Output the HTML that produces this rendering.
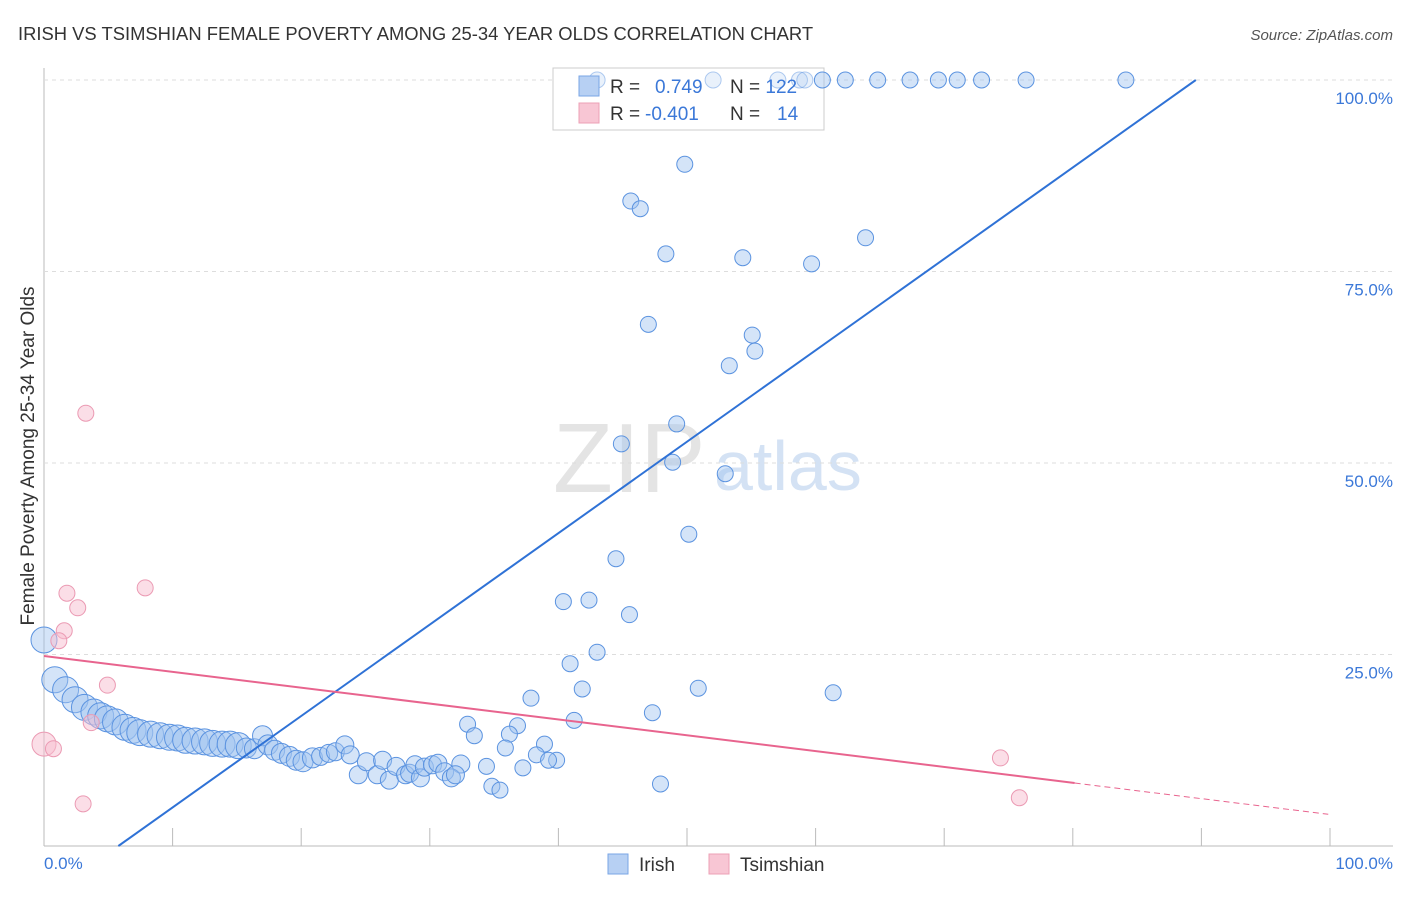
<!DOCTYPE html>
<html><head><meta charset="utf-8"><style>
body{margin:0;background:#fff;font-family:"Liberation Sans",sans-serif}
svg text{font-family:"Liberation Sans",sans-serif}
</style></head><body>
<svg id="chart" width="1406" height="892">
<text x="18" y="40" font-size="18.4" fill="#333">IRISH VS TSIMSHIAN FEMALE POVERTY AMONG 25-34 YEAR OLDS CORRELATION CHART</text>
<text x="1393" y="40" font-size="15" fill="#555" font-style="italic" text-anchor="end">Source: ZipAtlas.com</text>
<text x="553" y="492" font-size="98" fill="#e4e4e4" font-family="Liberation Serif">ZIP</text>
<text x="714" y="490" font-size="70" fill="#d4e2f4">atlas</text>
<g id="grid"></g>
<g>
<rect x="553" y="68" width="271" height="62" fill="#fff" stroke="#ccc"/>
</g>
<g id="pts"></g><g id="lines"></g>
<g>
<rect x="579" y="76" width="20" height="20" fill="#b7d0f3" stroke="#7aa6e6"/>
<rect x="579" y="103" width="20" height="20" fill="#f8c6d4" stroke="#eca0b6"/>
<text x="610" y="93" font-size="19" fill="#333">R = <tspan fill="#3b78d8" x="655">0.749</tspan><tspan x="730">N = </tspan><tspan fill="#3b78d8">122</tspan></text>
<text x="610" y="120" font-size="19" fill="#333">R = <tspan fill="#3b78d8" x="645">-0.401</tspan><tspan x="730">N = </tspan><tspan fill="#3b78d8" x="777">14</tspan></text>
</g>
<text transform="translate(34,456) rotate(-90)" font-size="19" fill="#333" text-anchor="middle">Female Poverty Among 25-34 Year Olds</text>
<text x="44" y="869" font-size="17" fill="#3b78d8">0.0%</text>
<text x="1393" y="869" font-size="17" fill="#3b78d8" text-anchor="end">100.0%</text>
<g>
<rect x="608" y="854" width="20" height="20" fill="#b7d0f3" stroke="#7aa6e6"/>
<text x="639" y="871" font-size="19" fill="#333">Irish</text>
<rect x="709" y="854" width="20" height="20" fill="#f8c6d4" stroke="#eca0b6"/>
<text x="740" y="871" font-size="19" fill="#333">Tsimshian</text>
</g>
</svg>
<script>
const yTicks=[25,50,75,100];
const yTickLabels=["25.0%","50.0%","75.0%","100.0%"];
const irishX=[41.0,49.6,54.4,56.0,56.4,57.7,59.4,61.8,64.2,66.3,67.7,69.5,72.8,80.2,47.5,43.5,44.2,60.9,46.1,51.8,56.9,44.8,52.5,52.7,50.8,46.9,42.8,46.6,50.5,47.8,42.4,40.4,38.5,43.4,41.0,39.0,39.9,48.5,58.5,36.1,45.1,39.3,31.4,35.1,31.9,34.5,34.2,37.1,36.5,38.0,37.4,32.8,30.9,35.5,33.2,33.8,45.7,
0,0.8,1.6,2.3,3.0,3.7,4.2,4.7,5.3,6.0,6.6,7.1,7.9,8.6,9.3,9.9,10.5,11.2,11.9,12.5,13.2,13.8,14.4,15.0,15.6,16.2,16.6,17.1,17.6,18.2,18.7,19.2,19.9,20.5,21.1,21.6,22.3,22.7,23.3,23.9,24.7,25.1,25.6,26.1,26.8,27.1,27.5,27.9,28.2,28.8,29.2,29.7,30.2,30.5];
const irishY=[100,100,100,100,100,100,100,100,100,100,100,100,100,100,89.0,84.2,83.2,79.4,77.3,76.8,76.0,68.1,66.7,64.6,62.7,55.1,52.5,50.1,48.6,40.7,37.5,32.1,31.9,30.2,25.3,23.8,20.5,20.6,20.0,19.3,17.4,16.4,15.9,15.7,14.4,14.6,12.8,13.3,11.9,11.2,11.2,10.4,10.7,10.2,7.8,7.3,8.1,
26.9,21.7,20.4,19.1,18.1,17.5,17.0,16.6,16.2,15.5,15.1,14.8,14.6,14.4,14.2,14.1,13.8,13.7,13.6,13.4,13.3,13.3,13.1,12.8,12.7,14.4,13.2,12.5,12.1,11.7,11.2,11.0,11.5,11.7,12.1,12.3,13.2,11.9,9.3,11.0,9.3,11.2,8.6,10.4,9.3,9.5,10.6,8.9,10.3,10.6,10.8,9.7,8.9,9.3];
const tsimX=[3.1,7.5,1.7,2.5,1.5,1.1,4.7,3.5,0,0.7,2.9,70.9,72.3];
const tsimY=[56.5,33.7,33.0,31.1,28.1,26.8,21.0,16.1,13.3,12.7,5.5,11.5,6.3];
const irishFit=[-6.9,1.252];
const tsimFit=[24.8,-0.217];
const NS='http://www.w3.org/2000/svg';
const X=v=>44+v*13.49, Y=v=>846-v*7.66;
function mk(p,t,a){const e=document.createElementNS(NS,t);for(const k in a)e.setAttribute(k,a[k]);p.appendChild(e);return e;}
const g=document.getElementById('grid');
let e=mk(g,'line',{x1:44,y1:68,x2:44,y2:846,stroke:'#bbb'});


e=mk(g,'line',{x1:44,y1:846,x2:1393,y2:846,stroke:'#bbb'});


for(let i=1;i<=10;i++){const x=44+i*128.6;e=mk(g,'line',{x1:x,y1:828,x2:x,y2:846,stroke:'#bbb'});

}
yTicks.forEach((t,i)=>{e=mk(g,'line',{x1:44,y1:Y(t),x2:1393,y2:Y(t),stroke:'#ddd','stroke-dasharray':'4,4'});


e=mk(g,'text',{x:1393,y:Y(t)+24,'font-size':17,fill:'#3b78d8','text-anchor':'end'});e.textContent=yTickLabels[i];

});
const p=document.getElementById('pts');
const rad=x=>x<15?13:x<20?10:x<31?9:8;
irishX.forEach((x,i)=>{e=mk(p,'circle',{cx:X(x),cy:Y(irishY[i]),r:rad(x),fill:'rgba(160,196,240,0.45)',stroke:'#5b93e0','stroke-width':1,opacity:(irishY[i]===100&&x<57)?0.5:1});

});
tsimX.forEach((x,i)=>{e=mk(p,'circle',{cx:X(x),cy:Y(tsimY[i]),r:(x===0?12:8),fill:'rgba(248,190,208,0.5)',stroke:'#eb9ab3','stroke-width':1});

});
const l=document.getElementById('lines');
const x0=-irishFit[0]/irishFit[1], x1=(100-irishFit[0])/irishFit[1];
e=mk(l,'line',{x1:X(x0),y1:Y(0),x2:X(x1),y2:Y(100),stroke:'#2f72d6','stroke-width':2});


const fy=x=>tsimFit[0]+tsimFit[1]*x;
e=mk(l,'line',{x1:X(0),y1:Y(fy(0)),x2:X(76.4),y2:Y(fy(76.4)),stroke:'#e8648e','stroke-width':2});


e=mk(l,'line',{x1:X(76.4),y1:Y(fy(76.4)),x2:X(95.2),y2:Y(fy(95.2)),stroke:'#e8648e','stroke-width':1,'stroke-dasharray':'6,4'});


</script>
</body></html>
